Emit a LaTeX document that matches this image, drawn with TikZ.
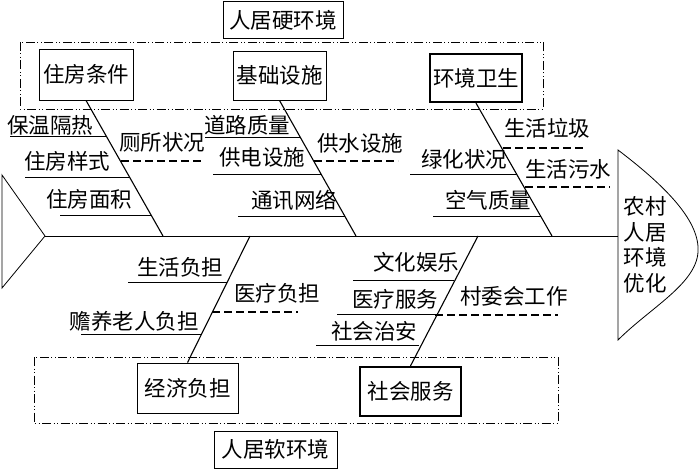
\documentclass[tikz,border=0pt]{standalone}
\usepackage{fontspec}
\setmainfont{Noto Sans CJK SC}
\usetikzlibrary{arrows.meta}

\tikzset{
	bone/.style={line width=1.1pt},
	twig/.style={line width=0.8pt},
	dtwig/.style={line width=1.3pt, dash pattern=on 8pt off 4pt},
	cat/.style={draw, line width=0.9pt, minimum width=93pt, minimum height=50pt, inner sep=0pt},
	keycat/.style={cat, line width=2.2pt, minimum width=92pt, minimum height=48pt},
	grpbox/.style={line width=0.8pt, dash pattern=on 9pt off 2.5pt on 1pt off 2.5pt on 1pt off 2.5pt},
	grptitle/.style={draw, line width=0.9pt, minimum height=37pt, inner sep=0pt},
	lbl/.style={inner sep=0pt}
}

\begin{document}
\begin{tikzpicture}[x=1pt, y=-1pt, every node/.style={font=\fontsize{21.5}{25.5}\selectfont}]
	\useasboundingbox (0,0) rectangle (700,470);

	%spine, tail and head
	\coordinate (tail) at (45,236);
	\coordinate (head) at (618,236);
	\draw[twig] (2,175) -- (tail) -- (2,288) -- cycle;
	\draw[twig] (tail) -- (head);
	\draw[twig] (618,150) .. controls (668,188) and (700,222) .. (698,252)
		.. controls (696,284) and (650,308) .. (618,340) -- cycle;
	\node[lbl, align=center] (goal) at (645,245) {农村\\人居\\环境\\优化};

	%hard environment
	\node[grptitle, minimum width=120pt] (hard) at (283,20) {人居硬环境};
	\draw[grpbox] (20,42) rectangle (543,109);
	\node[cat, minimum width=94pt, minimum height=51pt] (housing) at (86,74.5) {住房条件};
	\node[cat, minimum height=49pt] (infra) at (279.5,75.5) {基础设施};
	\node[keycat] (sanit) at (476,78) {环境卫生};

	\coordinate (s1) at (163,236);
	\coordinate (s2) at (356,236);
	\coordinate (s3) at (552,236);
	\draw[bone] (housing.south) -- (s1);
	\draw[bone] (infra.south) -- (s2);
	\draw[bone] (sanit.south) -- (s3);

	%soft environment
	\node[grptitle, minimum width=123pt] (soft) at (275.5,449.5) {人居软环境};
	\draw[grpbox] (34,357) rectangle (558,423);
	\node[cat, minimum width=101pt] (econ) at (187.5,388) {经济负担};
	\node[keycat, minimum width=101pt, minimum height=49pt] (service) at (410.5,391.5) {社会服务};

	\coordinate (s4) at (250,236);
	\coordinate (s5) at (478,236);
	\draw[bone] (s4) -- (econ.north);
	\draw[bone] (s5) -- (service.north);

	%sub causes
	\foreach \xa/\xb/\y in {10/107/136, 25/130/177, 60/151/215,
		205/301/137, 213/321/174, 238/345/216,
		410/517/174, 433/541/216,
		128/227/282, 81/201/334,
		353/454/280, 337/436/314, 316/419/345}
		\draw[twig] (\xa,\y) -- (\xb,\y);
	\foreach \xa/\xb/\y in {121/203/161, 314/398/161, 503/583/148, 525/610/187,
		212/298/312, 435/558/315}
		\draw[dtwig] (\xa,\y) -- (\xb,\y);

	\node[lbl] (warm)   at (50,125)  {保温隔热};
	\node[lbl] (style)  at (67,161)  {住房样式};
	\node[lbl] (area)   at (89,199)  {住房面积};
	\node[lbl] (toilet) at (162,142) {厕所状况};
	\node[lbl] (road)   at (247,125) {道路质量};
	\node[lbl] (power)  at (262,157) {供电设施};
	\node[lbl] (net)    at (294,200) {通讯网络};
	\node[lbl] (water)  at (360,143) {供水设施};
	\node[lbl] (green)  at (464,159) {绿化状况};
	\node[lbl] (air)    at (488,200) {空气质量};
	\node[lbl] (trash)  at (547,128) {生活垃圾};
	\node[lbl] (sewage) at (568,169) {生活污水};

	\node[lbl] (living) at (180,267) {生活负担};
	\node[lbl] (medfee) at (277,293) {医疗负担};
	\node[lbl] (elder)  at (134,321) {赡养老人负担};
	\node[lbl] (leisure) at (416,262) {文化娱乐};
	\node[lbl] (medsrv) at (395,299) {医疗服务};
	\node[lbl] (safety) at (374,331) {社会治安};
	\node[lbl] (village) at (514,296) {村委会工作};
\end{tikzpicture}
\end{document}
